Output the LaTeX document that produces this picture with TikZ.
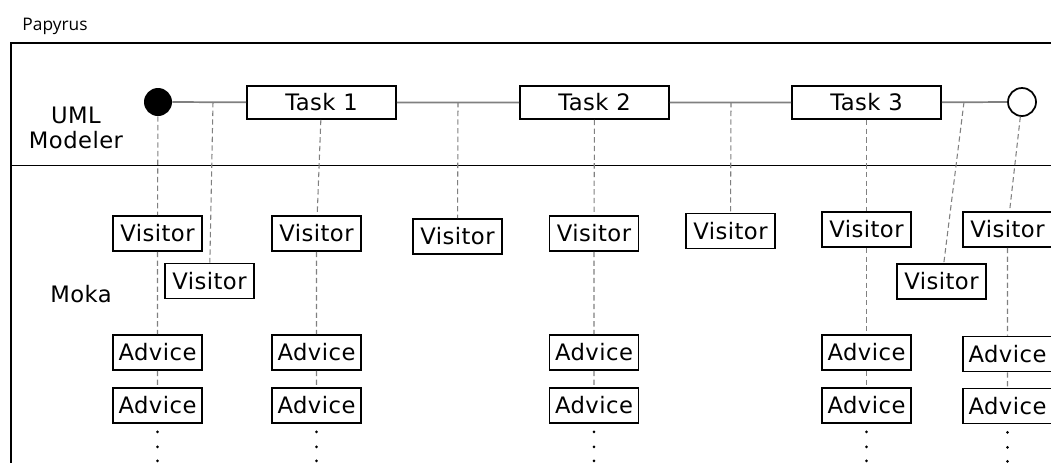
\documentclass[tikz,border=0pt]{standalone}
\usepackage{fontspec}
\setmainfont{DejaVu Sans}[LetterSpace=2]
\newfontfamily\headfont{Open Sans}
\usetikzlibrary{positioning}

\tikzset{
  task/.style={draw, line width=1.3pt, fill=white, inner sep=0pt,
    minimum width=111.75pt, minimum height=24.75pt, font=\fontsize{17}{20}\selectfont},
  visitor/.style={task, minimum width=66.75pt, minimum height=26.25pt},
  lane/.style={font=\fontsize{17}{18.75}\selectfont, inner sep=0pt},
  flow/.style={draw=gray, line width=1.3pt},
  link/.style={draw=gray, line width=0.8pt, dash pattern=on 4pt off 2.5pt},
}

\begin{document}
\begin{tikzpicture}[x=0.75pt, y=-0.75pt]
    \useasboundingbox (0,0) rectangle (1051,462);
    \clip (0,0) rectangle (1051,462);

    % Frame and swimlanes
    \draw[line width=1pt] (11,520) -- (11,43) -- (1100,43);
    \draw[line width=0.7pt] (11,165) -- (1100,165);
    \node[font=\headfont\fontsize{13}{15}\selectfont, inner sep=0pt] (papyrus) at (55,26) {Papyrus};
    \node[lane, align=center] (uml) at (76,128) {UML\\Modeler};
    \node[lane] (moka) at (81,294) {Moka};

    % Activity in the modeler
    \node[circle, fill, minimum size=21pt, inner sep=0pt] (start) at (158,102) {};
    \node[task] (t1) at (321.5,102.5) {Task 1};
    \node[task] (t2) at (594.5,102.5) {Task 2};
    \node[task] (t3) at (866.5,102.5) {Task 3};
    \node[circle, draw, line width=1.3pt, minimum size=21pt, inner sep=0pt] (end) at (1022,102) {};
    \draw[flow] (start) -- (t1) -- (t2) -- (t3) -- (end);

    % Points on the flow
    \coordinate (j1) at (213,102);
    \coordinate (j2) at (458,102);
    \coordinate (j3) at (731,102);
    \coordinate (j4) at (964,102);

    % Visitors
    \node[visitor] (v1) at (157.5,233.5) {Visitor};
    \node[visitor] (v2) at (209.5,281) {Visitor};
    \node[visitor] (v3) at (316.5,233.5) {Visitor};
    \node[visitor] (v4) at (457.5,236.5) {Visitor};
    \node[visitor] (v5) at (594,233.5) {Visitor};
    \node[visitor] (v6) at (730.5,231) {Visitor};
    \node[visitor] (v7) at (866.5,229.5) {Visitor};
    \node[visitor] (v8) at (941.5,281.5) {Visitor};
    \node[visitor] (v9) at (1007.5,229.5) {Visitor};

    % Advices
    \node[visitor] (a1) at (157.5,352.5) {Advice};
    \node[visitor] (b1) at (157.5,405.5) {Advice};
    \node[visitor] (a3) at (316.5,352.5) {Advice};
    \node[visitor] (b3) at (316.5,405.5) {Advice};
    \node[visitor] (a5) at (594,352.5) {Advice};
    \node[visitor] (b5) at (594,405.5) {Advice};
    \node[visitor] (a7) at (866.5,352.5) {Advice};
    \node[visitor] (b7) at (866.5,405.5) {Advice};
    \node[visitor] (a9) at (1007.5,354) {Advice};
    \node[visitor] (b9) at (1007.5,406) {Advice};

    % Dashed links
    \draw[link] (start) -- (v1) -- (a1) -- (b1);
    \draw[link] (j1) -- (v2);
    \draw[link] (t1) -- (v3) -- (a3) -- (b3);
    \draw[link] (j2) -- (v4);
    \draw[link] (t2) -- (v5) -- (a5) -- (b5);
    \draw[link] (j3) -- (v6);
    \draw[link] (t3) -- (v7) -- (a7) -- (b7);
    \draw[link] (j4) -- (v8);
    \draw[link] (end) -- (v9) -- (a9) -- (b9);

    % More advices
    \foreach \c in {b1,b3,b5,b7,b9}
        \foreach \d in {6,17.25,27.75}
            \fill ([yshift=-\d pt]\c.south) circle (1.1pt);

\end{tikzpicture}
\end{document}
